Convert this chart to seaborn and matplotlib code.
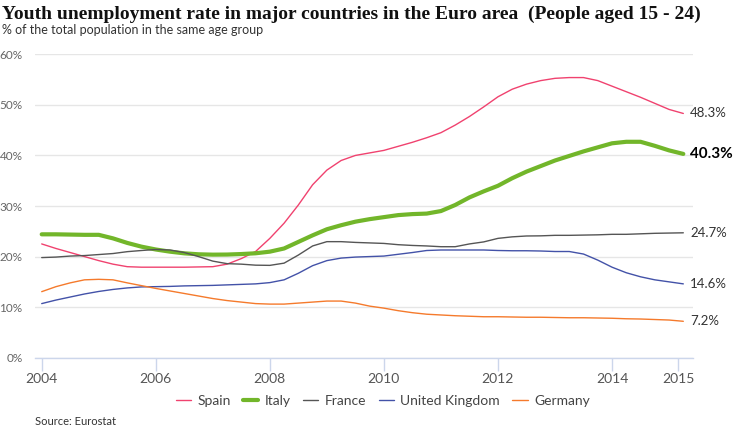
import numpy as np
import pandas as pd
import seaborn as sns
import matplotlib.pyplot as plt
from matplotlib.lines import Line2D

# %%
# values at quarter-year steps (last point ~Q1 2015)
years = [2004, 2004.25, 2004.5, 2004.75, 2005, 2005.25, 2005.5, 2005.75,
         2006, 2006.25, 2006.5, 2006.75, 2007, 2007.25, 2007.5, 2007.75,
         2008, 2008.25, 2008.5, 2008.75, 2009, 2009.25, 2009.5, 2009.75,
         2010, 2010.25, 2010.5, 2010.75, 2011, 2011.25, 2011.5, 2011.75,
         2012, 2012.25, 2012.5, 2012.75, 2013, 2013.25, 2013.5, 2013.75,
         2014, 2014.25, 2014.5, 2014.75, 2015, 2015.25]
spain = [22.5, 21.6, 20.8, 20.0, 19.2, 18.5, 18.0, 17.9,
         17.9, 17.9, 17.9, 17.95, 18.0, 18.5, 19.6, 21.0,
         23.6, 26.6, 30.2, 34.2, 37.1, 39.0, 40.0, 40.5,
         41.0, 41.8, 42.6, 43.5, 44.5, 46.0, 47.7, 49.6,
         51.6, 53.1, 54.1, 54.8, 55.25, 55.4, 55.4, 54.8,
         53.7, 52.6, 51.5, 50.3, 49.1, 48.3]
italy = [24.4, 24.4, 24.35, 24.3, 24.3, 23.6, 22.7, 21.96,
         21.4, 20.97, 20.64, 20.45, 20.38, 20.4, 20.5, 20.65,
         20.97, 21.6, 22.9, 24.2, 25.4, 26.2, 26.9, 27.4,
         27.8, 28.2, 28.4, 28.5, 29.0, 30.2, 31.7, 32.9,
         34.0, 35.5, 36.8, 37.9, 39.0, 39.9, 40.8, 41.6,
         42.4, 42.7, 42.7, 41.9, 41.0, 40.3]
france = [19.8, 19.9, 20.1, 20.2, 20.4, 20.6, 20.97, 21.2,
          21.4, 21.3, 20.8, 20.0, 19.1, 18.6, 18.5, 18.3,
          18.26, 18.7, 20.3, 22.1, 22.95, 22.95, 22.8, 22.7,
          22.6, 22.35, 22.2, 22.1, 21.95, 21.95, 22.5, 22.9,
          23.6, 23.9, 24.07, 24.1, 24.2, 24.2, 24.25, 24.3,
          24.4, 24.4, 24.5, 24.6, 24.65, 24.7]
uk = [10.7, 11.4, 12.0, 12.6, 13.1, 13.5, 13.8, 14.0,
      14.05, 14.1, 14.2, 14.25, 14.3, 14.4, 14.5, 14.6,
      14.85, 15.4, 16.7, 18.2, 19.2, 19.7, 19.9, 20.0,
      20.1, 20.45, 20.8, 21.2, 21.3, 21.3, 21.3, 21.3,
      21.2, 21.15, 21.15, 21.1, 21.0, 21.0, 20.5, 19.3,
      17.9, 16.8, 16.0, 15.4, 15.0, 14.6]
germany = [13.06, 14.05, 14.8, 15.4, 15.5, 15.4, 14.8, 14.25,
           13.7, 13.2, 12.7, 12.2, 11.7, 11.3, 11.0, 10.7,
           10.6, 10.6, 10.8, 11.0, 11.2, 11.2, 10.8, 10.2,
           9.8, 9.3, 8.9, 8.6, 8.45, 8.3, 8.2, 8.1,
           8.1, 8.05, 8.0, 8.0, 7.95, 7.9, 7.9, 7.85,
           7.8, 7.7, 7.65, 7.55, 7.45, 7.2]

countries = ['Spain', 'Italy', 'France', 'United Kingdom', 'Germany']
tick_labels = ['2004', '2006', '2008', '2010', '2012', '2014', '2015']
y_ticks = [0, 10, 20, 30, 40, 50, 60]

# %%
df = pd.DataFrame({'year': years, 'Spain': spain, 'Italy': italy, 'France': france,
                   'United Kingdom': uk, 'Germany': germany})
long_df = df.melt(id_vars='year', var_name='country', value_name='rate')

colors = {'Spain': '#f0426f', 'Italy': '#72b62a', 'France': '#555555',
          'United Kingdom': '#4352a8', 'Germany': '#f57a2c'}
widths = {'Spain': 1.0, 'Italy': 3.0, 'France': 1.0, 'United Kingdom': 1.0, 'Germany': 1.0}

sns.set_theme(style='white')
plt.rcParams['font.family'] = ['Lato', 'DejaVu Sans']

fig = plt.figure(figsize=(7.36, 4.29), dpi=100)
ax = fig.add_axes([0.0476, 0.1662, 0.894, 0.7072])

for c in countries:
    sns.lineplot(data=long_df[long_df['country'] == c], x='year', y='rate',
                 color=colors[c], linewidth=widths[c], ax=ax, legend=False, zorder=3,
                 solid_joinstyle='round', solid_capstyle='round')

# end labels
for c in countries:
    last = df[c].iloc[-1]
    bold = c == 'Italy'
    ax.annotate(f'{last:.1f}%', (df['year'].iloc[-1], last), xytext=(5, 0),
                textcoords='offset points', va='center', ha='left',
                fontsize=11 if bold else 9.5, fontweight='bold' if bold else 'normal',
                color='black' if bold else '#333333', annotation_clip=False)

ax.set_xlim(2003.883, 2015.42)
ax.set_ylim(0, 60)
tick_pos = [2004, 2006, 2008, 2010, 2012, 2014, 2015.16]
ax.set_xticks(tick_pos)
ax.set_xticklabels(tick_labels)
ax.set_yticks(y_ticks)
ax.set_yticklabels([f'{v}%' for v in y_ticks])
ax.set_xlabel('')
ax.set_ylabel('')

ax.yaxis.grid(True, color='#e6e6e6', linewidth=1)
ax.xaxis.grid(False)
for s in ['top', 'right', 'left']:
    ax.spines[s].set_visible(False)
ax.spines['bottom'].set_color('#ccd6eb')
ax.spines['bottom'].set_linewidth(1)
ax.tick_params(axis='x', direction='out', length=9, width=1, color='#ccd6eb',
               labelsize=10, labelcolor='#555555', pad=2, bottom=True)
ax.tick_params(axis='y', length=0, labelsize=8.5, labelcolor='#666666', pad=9)

# legend
handles = [Line2D([0], [0], color=colors[c], lw=widths[c]) for c in countries]
fig.legend(handles, countries, loc='center', bbox_to_anchor=(0.52, 0.065), ncol=5,
           frameon=False, fontsize=10, handlelength=1.1, handletextpad=0.45,
           columnspacing=0.9, labelcolor='#444444')

fig.text(0.003, 0.966, 'Youth unemployment rate in major countries in the Euro area  (People aged 15 - 24)',
         family='Liberation Serif', fontweight='bold', fontsize=14, va='center', ha='left', color='#111111')
fig.text(0.003, 0.929, '% of the total population in the same age group',
         fontsize=9, va='center', ha='left', color='#333333')
fig.text(0.048, 0.018, 'Source: Eurostat', fontsize=8, va='center', ha='left', color='#333333')

fig.savefig('out.png', dpi=100)
